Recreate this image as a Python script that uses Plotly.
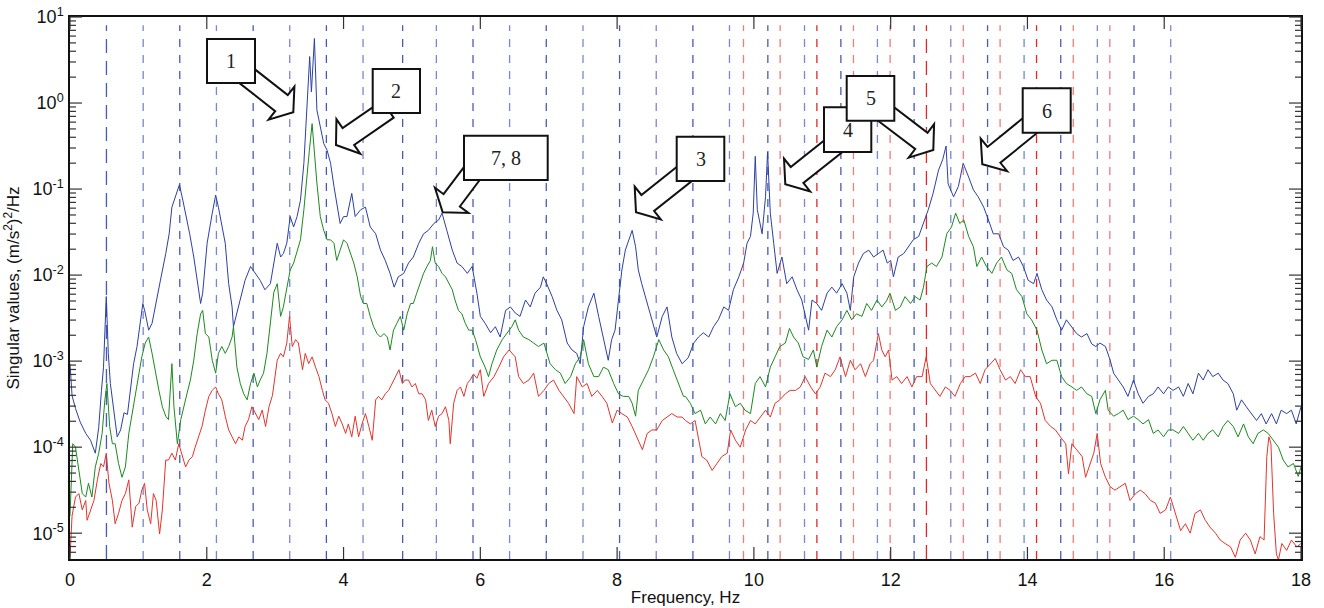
import math
import plotly.graph_objects as go

# ---------------- data (frequency in Hz, log10 of singular value) ----------------
blue_f = [0.00,0.03,0.08,0.15,0.23,0.30,0.37,0.42,0.46,0.49,0.53,0.56,0.59,0.64,0.69,0.74,0.79,0.84,0.88,0.93,
          0.98,1.03,1.065,1.10,1.15,1.20,1.25,1.32,1.40,1.45,1.49,1.54,1.60,1.65,1.69,1.75,1.81,1.86,1.91,1.94,
          2.005,2.08,2.13,2.17,2.22,2.27,2.32,2.37,2.39,2.44,2.49,2.56,2.64,2.71,2.78,2.85,2.93,3.03,3.08,3.12,
          3.17,3.22,3.27,3.32,3.37,3.42,3.46,3.505,3.53,3.574,3.61,3.66,3.71,3.76,3.81,3.86,3.91,3.95,4.00,4.05,
          4.12,4.17,4.25,4.32,4.39,4.47,4.54,4.61,4.68,4.74,4.80,4.88,4.95,5.02,5.10,5.17,5.24,5.32,5.39,5.44,
          5.51,5.59,5.66,5.73,5.81,5.88,5.95,6.00,6.07,6.15,6.22,6.29,6.37,6.44,6.51,6.58,6.66,6.73,6.80,6.88,
          6.92,6.97,7.05,7.12,7.19,7.27,7.34,7.41,7.46,7.51,7.58,7.66,7.73,7.80,7.87,7.92,7.97,8.02,8.07,8.12,
          8.17,8.22,8.27,8.31,8.36,8.44,8.51,8.58,8.66,8.73,8.80,8.87,8.95,9.04,9.12,9.19,9.26,9.34,9.41,9.48,
          9.56,9.63,9.70,9.78,9.85,9.90,9.95,9.99,10.02,10.05,10.12,10.17,10.20,10.24,10.29,10.34,10.41,10.48,10.56,10.63,
          10.70,10.76,10.80,10.85,10.92,10.99,11.07,11.14,11.21,11.29,11.36,11.41,11.46,11.53,11.60,11.68,11.75,11.82,11.89,11.95,
          12.00,12.04,12.11,12.19,12.26,12.33,12.41,12.48,12.55,12.62,12.70,12.76,12.81,12.84,12.92,12.99,13.06,13.14,13.21,13.28,
          13.36,13.43,13.50,13.58,13.65,13.72,13.79,13.87,13.94,14.01,14.09,14.14,14.21,14.28,14.36,14.43,14.50,14.57,14.65,14.72,
          14.79,14.87,14.94,15.00,15.06,15.14,15.21,15.26,15.33,15.40,15.47,15.55,15.62,15.69,15.77,15.84,15.91,15.99,16.06,16.13,
          16.21,16.28,16.35,16.42,16.50,16.57,16.64,16.71,16.79,16.86,16.93,17.01,17.06,17.13,17.20,17.28,17.35,17.42,17.49,17.57,
          17.64,17.71,17.79,17.86,17.93,18.00]
blue_log = [-3.03,-3.40,-3.55,-3.71,-3.84,-3.92,-4.07,-3.77,-3.34,-3.07,-2.25,-2.91,-3.26,-3.57,-3.88,-3.80,-3.60,-3.62,-3.34,-3.03,
            -2.83,-2.52,-2.33,-2.44,-2.64,-2.56,-2.37,-2.07,-1.75,-1.52,-1.21,-1.09,-0.95,-1.13,-1.28,-1.52,-1.79,-2.07,-2.33,-2.21,
            -1.63,-1.28,-1.07,-1.21,-1.44,-1.63,-2.10,-2.37,-2.60,-2.44,-2.25,-2.06,-1.90,-1.98,-2.06,-2.17,-2.10,-1.63,-1.79,-1.75,
            -1.63,-1.32,-1.44,-1.32,-1.13,-0.70,-0.08,0.54,0.13,0.75,-0.08,-0.28,-0.47,-0.55,-0.70,-0.97,-1.24,-1.40,-1.32,-1.32,
            -1.05,-1.32,-1.24,-1.21,-1.44,-1.52,-1.71,-1.83,-1.98,-2.14,-2.02,-1.98,-1.86,-1.79,-1.63,-1.52,-1.48,-1.40,-1.36,-1.28,
            -1.48,-1.71,-1.86,-1.90,-1.98,-1.90,-2.21,-2.48,-2.56,-2.67,-2.60,-2.72,-2.41,-2.37,-2.44,-2.48,-2.29,-2.37,-2.21,-2.14,
            -2.02,-2.10,-2.25,-2.41,-2.52,-2.79,-2.87,-2.91,-3.03,-2.60,-2.37,-2.21,-2.48,-2.72,-2.99,-2.75,-2.64,-2.29,-1.94,-1.71,
            -1.59,-1.48,-1.67,-1.94,-2.10,-2.33,-2.52,-2.72,-2.48,-2.37,-2.72,-2.91,-3.03,-2.96,-2.79,-2.72,-2.67,-2.72,-2.60,-2.52,
            -2.37,-2.41,-2.17,-2.02,-1.86,-1.63,-1.55,-1.28,-0.62,-1.24,-1.52,-1.09,-0.57,-1.28,-1.63,-1.98,-1.79,-2.10,-2.02,-2.17,
            -2.29,-2.48,-2.64,-2.29,-2.33,-2.41,-2.21,-2.14,-2.21,-2.10,-2.21,-2.41,-2.02,-1.86,-1.75,-1.71,-1.79,-1.75,-1.71,-1.86,
            -1.83,-2.02,-1.79,-1.75,-1.67,-1.59,-1.55,-1.40,-1.24,-1.05,-0.78,-0.66,-0.50,-0.94,-1.09,-0.97,-0.70,-0.86,-1.01,-1.09,
            -1.21,-1.36,-1.52,-1.52,-1.67,-1.71,-1.83,-1.79,-1.90,-2.06,-2.10,-1.98,-2.17,-2.29,-2.37,-2.52,-2.64,-2.52,-2.60,-2.68,
            -2.72,-2.68,-2.80,-2.83,-2.79,-2.83,-2.99,-3.14,-3.22,-3.30,-3.41,-3.22,-3.38,-3.49,-3.41,-3.38,-3.30,-3.38,-3.30,-3.34,
            -3.30,-3.41,-3.26,-3.38,-3.14,-3.22,-3.10,-3.18,-3.14,-3.22,-3.26,-3.38,-3.57,-3.45,-3.53,-3.61,-3.69,-3.61,-3.73,-3.61,
            -3.73,-3.57,-3.61,-3.57,-3.73,-3.53]

green_f = [0.00,0.04,0.08,0.13,0.18,0.23,0.27,0.32,0.37,0.42,0.47,0.51,0.54,0.58,0.62,0.66,0.71,0.76,0.81,0.86,
           0.91,0.96,1.01,1.05,1.10,1.15,1.20,1.25,1.30,1.35,1.40,1.44,1.49,1.52,1.57,1.62,1.66,1.71,1.76,1.81,
           1.86,1.91,1.94,1.98,2.03,2.08,2.13,2.17,2.22,2.27,2.32,2.37,2.39,2.44,2.49,2.54,2.59,2.64,2.69,2.74,
           2.78,2.83,2.88,2.93,2.98,3.03,3.08,3.12,3.17,3.22,3.27,3.32,3.37,3.42,3.47,3.50,3.54,3.57,3.61,3.66,
           3.71,3.76,3.81,3.86,3.90,3.95,4.00,4.05,4.10,4.15,4.20,4.25,4.29,4.34,4.39,4.44,4.49,4.54,4.59,4.64,
           4.68,4.73,4.78,4.83,4.88,4.93,4.98,5.02,5.07,5.12,5.17,5.22,5.27,5.30,5.34,5.39,5.44,5.49,5.54,5.59,
           5.63,5.68,5.73,5.78,5.83,5.88,5.93,6.00,6.07,6.12,6.17,6.24,6.32,6.39,6.46,6.51,6.56,6.63,6.71,6.78,
           6.85,6.93,6.97,7.02,7.10,7.17,7.24,7.32,7.39,7.46,7.51,7.58,7.66,7.73,7.80,7.87,7.95,8.02,8.09,8.17,
           8.22,8.27,8.31,8.39,8.46,8.53,8.61,8.68,8.75,8.82,8.90,8.97,9.00,9.07,9.14,9.22,9.29,9.36,9.44,9.51,
           9.58,9.65,9.73,9.80,9.87,9.95,10.02,10.09,10.17,10.24,10.31,10.38,10.46,10.52,10.58,10.65,10.72,10.80,10.87,10.92,
           10.99,11.07,11.14,11.21,11.29,11.36,11.43,11.50,11.58,11.65,11.72,11.80,11.87,11.94,11.99,12.07,12.14,12.21,12.29,12.36,
           12.43,12.48,12.53,12.60,12.67,12.75,12.82,12.89,12.95,13.01,13.07,13.14,13.21,13.26,13.33,13.40,13.48,13.55,13.62,13.70,
           13.77,13.84,13.92,13.99,14.06,14.14,14.21,14.28,14.36,14.43,14.50,14.57,14.65,14.72,14.79,14.87,14.94,15.00,15.06,15.14,
           15.18,15.26,15.33,15.40,15.47,15.55,15.62,15.69,15.77,15.84,15.91,15.99,16.06,16.13,16.21,16.28,16.35,16.42,16.50,16.57,
           16.64,16.71,16.79,16.86,16.93,17.01,17.08,17.16,17.23,17.30,17.37,17.45,17.52,17.59,17.67,17.74,17.81,17.89,17.96,18.00]
green_log = [-4.80,-3.96,-4.00,-4.27,-4.54,-4.58,-4.42,-4.58,-4.23,-4.07,-3.84,-3.45,-3.26,-3.76,-3.96,-3.96,-4.19,-4.35,-4.23,-3.84,
             -3.61,-3.34,-3.14,-2.95,-2.79,-2.72,-2.91,-3.14,-3.34,-3.53,-3.64,-3.68,-3.03,-3.53,-3.96,-3.68,-3.53,-3.38,-3.22,-2.99,
             -2.68,-2.45,-2.41,-2.68,-2.72,-2.99,-3.14,-2.91,-2.83,-2.91,-2.83,-2.72,-2.60,-3.07,-3.26,-3.38,-3.45,-3.26,-3.14,-3.30,
             -3.22,-3.14,-2.91,-2.52,-2.20,-2.10,-2.48,-2.37,-2.17,-1.94,-1.86,-1.71,-1.59,-1.24,-0.86,-0.55,-0.24,-0.55,-0.93,-1.32,
             -1.48,-1.59,-1.59,-1.63,-1.83,-1.71,-1.59,-1.63,-1.75,-1.86,-2.02,-2.25,-2.33,-2.33,-2.48,-2.60,-2.68,-2.72,-2.68,-2.72,
             -2.87,-2.64,-2.56,-2.48,-2.64,-2.45,-2.33,-2.33,-2.21,-2.10,-1.98,-1.90,-1.83,-1.67,-1.86,-1.90,-1.98,-2.02,-2.10,-2.17,
             -2.29,-2.41,-2.45,-2.56,-2.64,-2.64,-2.75,-2.95,-3.07,-3.18,-3.03,-2.87,-2.75,-2.68,-2.60,-2.52,-2.64,-2.72,-2.75,-2.79,
             -2.83,-2.79,-2.91,-3.03,-3.10,-3.14,-3.26,-3.18,-3.03,-2.95,-2.75,-3.03,-3.18,-3.18,-3.07,-3.10,-3.26,-3.38,-3.41,-3.41,
             -3.49,-3.64,-3.34,-3.22,-3.10,-2.95,-2.75,-2.87,-2.95,-3.10,-3.26,-3.41,-3.41,-3.49,-3.61,-3.57,-3.73,-3.65,-3.73,-3.61,
             -3.69,-3.38,-3.53,-3.49,-3.57,-3.61,-3.26,-3.18,-3.30,-3.07,-2.95,-2.83,-2.79,-2.62,-2.72,-2.79,-2.95,-2.98,-2.87,-3.07,
             -2.83,-2.64,-2.72,-2.60,-2.52,-2.41,-2.52,-2.45,-2.48,-2.33,-2.41,-2.29,-2.37,-2.30,-2.21,-2.41,-2.37,-2.25,-2.33,-2.25,
             -2.29,-2.14,-1.90,-1.86,-1.90,-1.79,-1.52,-1.44,-1.28,-1.40,-1.36,-1.55,-1.67,-1.90,-1.79,-1.90,-1.98,-1.86,-1.79,-1.94,
             -1.98,-2.17,-2.25,-2.45,-2.52,-2.64,-2.87,-3.03,-2.99,-2.99,-3.18,-3.26,-3.30,-3.34,-3.30,-3.38,-3.41,-3.61,-3.45,-3.34,
             -3.57,-3.64,-3.61,-3.57,-3.68,-3.64,-3.68,-3.73,-3.68,-3.84,-3.80,-3.88,-3.80,-3.80,-3.84,-3.76,-3.84,-3.92,-3.84,-3.92,
             -3.84,-3.80,-3.88,-3.76,-3.69,-3.76,-3.88,-3.73,-3.88,-3.96,-3.84,-3.80,-3.84,-3.92,-4.00,-4.15,-4.23,-4.19,-4.34,-4.23]

red_f = [0.00,0.03,0.08,0.13,0.18,0.23,0.25,0.30,0.35,0.40,0.45,0.49,0.53,0.57,0.62,0.66,0.71,0.76,0.81,0.86,
         0.91,0.96,1.01,1.05,1.09,1.13,1.18,1.22,1.26,1.31,1.35,1.40,1.44,1.49,1.54,1.59,1.64,1.69,1.74,1.79,
         1.83,1.88,1.93,1.98,2.03,2.08,2.13,2.17,2.22,2.27,2.32,2.37,2.42,2.47,2.52,2.56,2.61,2.66,2.71,2.76,
         2.81,2.86,2.91,2.96,3.03,3.08,3.12,3.17,3.21,3.25,3.30,3.34,3.40,3.44,3.49,3.54,3.59,3.64,3.69,3.73,
         3.78,3.83,3.88,3.93,3.98,4.03,4.07,4.12,4.17,4.22,4.27,4.32,4.37,4.42,4.47,4.51,4.56,4.61,4.66,4.71,
         4.76,4.81,4.86,4.90,4.95,5.00,5.05,5.10,5.15,5.20,5.24,5.29,5.34,5.39,5.44,5.49,5.54,5.56,5.61,5.66,
         5.71,5.76,5.81,5.85,5.90,5.95,6.00,6.05,6.12,6.20,6.27,6.34,6.42,6.51,6.56,6.63,6.71,6.78,6.85,6.93,
         7.00,7.07,7.15,7.22,7.29,7.37,7.41,7.49,7.56,7.63,7.71,7.78,7.85,7.93,8.00,8.07,8.15,8.22,8.29,8.37,
         8.44,8.51,8.58,8.66,8.73,8.80,8.88,8.95,9.00,9.07,9.14,9.19,9.24,9.31,9.39,9.46,9.53,9.61,9.66,9.73,
         9.80,9.88,9.95,10.02,10.09,10.17,10.24,10.31,10.38,10.46,10.53,10.61,10.68,10.75,10.83,10.90,10.97,11.04,11.12,11.19,
         11.26,11.34,11.41,11.48,11.56,11.63,11.70,11.75,11.82,11.87,11.92,11.97,12.02,12.09,12.16,12.24,12.31,12.38,12.46,12.52,
         12.58,12.65,12.72,12.80,12.87,12.94,13.02,13.09,13.16,13.24,13.31,13.38,13.46,13.53,13.60,13.68,13.75,13.82,13.90,13.97,
         14.04,14.12,14.19,14.26,14.34,14.41,14.48,14.56,14.60,14.65,14.72,14.80,14.85,14.92,14.97,15.02,15.07,15.14,15.21,15.28,
         15.36,15.43,15.50,15.58,15.65,15.72,15.80,15.87,15.94,16.02,16.09,16.16,16.24,16.31,16.38,16.45,16.53,16.60,16.67,16.75,
         16.82,16.89,16.97,17.04,17.11,17.19,17.26,17.33,17.40,17.46,17.50,17.53,17.56,17.60,17.64,17.67,17.72,17.79,17.86,17.94,18.00]
red_log = [-5.28,-4.80,-4.58,-4.54,-4.73,-4.62,-4.85,-4.73,-4.62,-4.38,-4.19,-4.23,-4.07,-4.42,-4.62,-4.89,-4.77,-4.62,-4.54,-4.38,
           -4.93,-4.69,-4.65,-4.50,-4.42,-4.73,-4.89,-4.54,-4.62,-5.01,-4.73,-4.15,-4.15,-4.07,-4.15,-3.96,-4.11,-4.23,-4.15,-4.11,
           -4.00,-3.88,-3.76,-3.57,-3.41,-3.34,-3.30,-3.38,-3.45,-3.64,-3.80,-3.88,-3.96,-3.88,-3.92,-3.76,-3.68,-3.53,-3.61,-3.68,
           -3.57,-3.76,-3.53,-3.40,-2.99,-2.91,-2.95,-2.79,-2.48,-2.83,-2.75,-2.79,-3.10,-2.91,-3.03,-2.95,-3.07,-3.18,-3.34,-3.45,
           -3.49,-3.61,-3.76,-3.64,-3.73,-3.84,-3.73,-3.88,-3.64,-3.88,-3.73,-3.61,-3.76,-3.92,-3.45,-3.41,-3.45,-3.38,-3.34,-3.26,
           -3.18,-3.10,-3.26,-3.22,-3.22,-3.30,-3.26,-3.38,-3.38,-3.45,-3.69,-3.57,-3.76,-3.64,-3.61,-3.53,-3.69,-3.96,-3.49,-3.34,
           -3.30,-3.41,-3.26,-3.22,-3.15,-3.20,-3.10,-3.41,-3.26,-3.18,-3.07,-2.95,-2.87,-2.95,-3.18,-3.26,-3.22,-3.14,-3.41,-3.34,
           -3.26,-3.22,-3.34,-3.41,-3.49,-3.61,-3.18,-3.30,-3.26,-3.41,-3.34,-3.41,-3.49,-3.72,-3.57,-3.61,-3.65,-3.76,-3.88,-4.03,
           -3.84,-3.80,-3.80,-3.69,-3.65,-3.61,-3.65,-3.65,-3.69,-3.73,-3.69,-3.88,-4.11,-4.15,-4.27,-4.19,-4.11,-4.07,-3.80,-3.92,
           -4.00,-3.80,-3.69,-3.73,-3.65,-3.57,-3.65,-3.49,-3.45,-3.38,-3.34,-3.34,-3.30,-3.18,-3.30,-3.38,-3.30,-3.14,-3.18,-3.10,
           -2.95,-3.18,-2.99,-3.10,-3.03,-3.18,-3.03,-2.99,-2.68,-2.87,-2.95,-2.87,-3.22,-3.18,-3.26,-3.18,-3.30,-3.18,-3.18,-2.95,
           -3.26,-3.34,-3.41,-3.30,-3.34,-3.41,-3.26,-3.18,-3.18,-3.14,-3.26,-3.10,-3.03,-2.97,-3.10,-3.22,-3.18,-3.26,-3.10,-3.18,
           -3.18,-3.41,-3.49,-3.69,-3.76,-3.80,-3.88,-3.96,-4.31,-3.96,-4.03,-4.11,-4.35,-4.19,-4.07,-3.84,-4.19,-4.35,-4.46,-4.50,
           -4.46,-4.42,-4.62,-4.54,-4.50,-4.54,-4.62,-4.65,-4.77,-4.73,-4.58,-4.77,-4.97,-4.89,-5.00,-4.77,-4.73,-4.85,-4.93,-5.00,
           -5.08,-5.12,-5.16,-5.28,-5.08,-5.00,-5.08,-5.24,-5.04,-5.08,-4.11,-3.88,-3.96,-4.77,-5.24,-5.31,-5.12,-5.20,-5.08,-5.16,-5.12]

# harmonic marker frequencies (Hz)
blue_marks = [0.533,1.070,1.605,2.141,2.678,3.213,3.749,4.285,4.864,5.357,5.893,6.428,6.964,7.501,8.036,
              8.572,9.108,9.643,10.204,10.740,11.272,11.806,12.343,12.879,13.417,13.951,14.487,15.022,15.558,16.095]
red_marks = [9.848,10.384,10.921,11.456,11.992,12.523,13.062,13.600,14.133,14.670,15.205]

x_ticks = [0, 2, 4, 6, 8, 10, 12, 14, 16, 18]
y_exps = [-5, -4, -3, -2, -1, 0, 1]

# ---------------- styling / layout ----------------
W, H = 1324, 608
ML, MR, MT, MB = 70, 23, 17, 49
PW, PH = W - ML - MR, H - MT - MB
SANS = "Liberation Sans, Arial, Helvetica, sans-serif"
SERIF = "Liberation Serif, Times New Roman, serif"
XR = [0, 18]
YR = [-5.30, 1.0]

fig = go.Figure()
for f, L, col in [(blue_f, blue_log, "#2c40a3"), (green_f, green_log, "#1b8a1e"), (red_f, red_log, "#e3342a")]:
    fig.add_trace(go.Scatter(x=f, y=[10 ** v for v in L], mode="lines",
                             line=dict(color=col, width=1), showlegend=False, hoverinfo="skip"))

shapes = []
for i, fm in enumerate(blue_marks):
    dash = "14px,8px" if i == 0 else "8px,8px"
    col = "rgba(60,82,180,0.95)" if i % 2 == 0 else "rgba(95,115,195,0.85)"
    shapes.append(dict(type="line", xref="x", yref="paper", x0=fm, x1=fm, y0=0, y1=0.985,
                       line=dict(color=col, width=1.3, dash=dash), layer="below"))
for i, fm in enumerate(red_marks):
    bright = (i % 3 == 2)
    dash = "14px,8px" if i == 5 else "8px,8px"
    col = "rgba(225,40,40,1)" if bright else "rgba(235,110,110,0.9)"
    shapes.append(dict(type="line", xref="x", yref="paper", x0=fm, x1=fm, y0=0, y1=0.985,
                       line=dict(color=col, width=1.3, dash=dash), layer="below"))


def px(x):
    return (x - ML) / PW


def py(y):
    return (MT + PH - y) / PH


# ---- frame ticks (inside, on all four sides), positioned from the axis ranges ----
TICK = dict(color="#333", width=1.2)
MAJ, MIN = 12, 6
for t in x_ticks:
    xf = (t - XR[0]) / (XR[1] - XR[0])
    shapes.append(dict(type="line", xref="paper", yref="paper", x0=xf, x1=xf, y0=0, y1=MAJ / PH, line=TICK, layer="above"))
    shapes.append(dict(type="line", xref="paper", yref="paper", x0=xf, x1=xf, y0=1, y1=1 - MAJ / PH, line=TICK, layer="above"))
for e in range(-6, 2):
    for k in range(1, 10):
        lv = e + math.log10(k)
        if lv < YR[0] - 1e-9 or lv > YR[1] + 1e-9:
            continue
        yf = (lv - YR[0]) / (YR[1] - YR[0])
        ln_ = MAJ if k == 1 else MIN
        shapes.append(dict(type="line", xref="paper", yref="paper", x0=0, x1=ln_ / PW, y0=yf, y1=yf, line=TICK, layer="above"))
        shapes.append(dict(type="line", xref="paper", yref="paper", x0=1, x1=1 - ln_ / PW, y0=yf, y1=yf, line=TICK, layer="above"))

# callouts: label, box (x0,y0,x1,y1) in page pixels, arrow tail, arrow tip
callouts = [
    ("1", (207, 39, 255, 83), (247.5, 76.5), (293.3, 112.3)),
    ("2", (372.7, 69, 420, 113), (381.3, 113.8), (336, 145)),
    ("7, 8", (464, 135.7, 547.7, 180), (472, 173.3), (442.7, 212.3)),
    ("3", (676.7, 136.7, 724.3, 181), (683, 175), (636, 212.3)),
    ("4", (824, 107.3, 871.3, 152), (831.7, 147.5), (785.3, 184.3)),
    ("5", (846.7, 76, 894.3, 120.7), (886.3, 114.2), (933.3, 150)),
    ("6", (1022.7, 88.3, 1070.7, 132.7), (1029.7, 125.8), (982.3, 164.3)),
]
annotations = []
SH, HH, HL = 10.2, 21, 15
for label, (bx0, by0, bx1, by1), (tx, ty), (hx, hy) in callouts:
    dx, dy = hx - tx, hy - ty
    ln = (dx * dx + dy * dy) ** 0.5
    ux, uy = dx / ln, dy / ln
    nx, ny = -uy, ux
    tx, ty = tx - 8 * ux, ty - 8 * uy
    bxh, byh = hx - HL * ux, hy - HL * uy
    pts = [(tx + SH * nx, ty + SH * ny), (bxh + SH * nx, byh + SH * ny), (bxh + HH * nx, byh + HH * ny),
           (hx, hy), (bxh - HH * nx, byh - HH * ny), (bxh - SH * nx, byh - SH * ny), (tx - SH * nx, ty - SH * ny)]
    path = "M " + " L ".join(f"{px(a):.5f},{py(b):.5f}" for a, b in pts) + " Z"
    shapes.append(dict(type="path", xref="paper", yref="paper", path=path,
                       fillcolor="white", line=dict(color="#111", width=2), layer="above"))
    shapes.append(dict(type="rect", xref="paper", yref="paper", x0=px(bx0), x1=px(bx1), y0=py(by1), y1=py(by0),
                       fillcolor="white", line=dict(color="#111", width=2), layer="above"))
    annotations.append(dict(xref="paper", yref="paper", x=px((bx0 + bx1) / 2), y=py((by0 + by1) / 2),
                            text=label, showarrow=False, xanchor="center", yanchor="middle",
                            font=dict(family=SERIF, size=20, color="#222")))

major_vals = [10.0 ** e for e in y_exps]

fig.update_layout(
    width=W, height=H,
    margin=dict(l=ML, r=MR, t=MT, b=MB, autoexpand=False),
    paper_bgcolor="white", plot_bgcolor="white",
    font=dict(family=SANS, color="#111"),
    shapes=shapes, annotations=annotations,
    xaxis=dict(range=XR, tickmode="array", tickvals=x_ticks, ticktext=[str(t) for t in x_ticks],
               ticks="", ticklabelstandoff=4,
               showline=True, linecolor="#111", linewidth=1.5, mirror=True,
               showgrid=False, zeroline=False, tickfont=dict(size=18, family=SANS),
               title=dict(text="Frequency, Hz", font=dict(size=17, family=SANS), standoff=2),
               automargin=False),
    yaxis=dict(type="log", range=YR, tickmode="array",
               tickvals=major_vals, ticktext=[f"10<sup>{e}</sup>" for e in y_exps],
               ticks="", ticklabelstandoff=1,
               showline=True, linecolor="#111", linewidth=1.5, mirror=True,
               showgrid=False, zeroline=False, tickfont=dict(size=18, family=SANS),
               title=dict(text="Singular values, (m/s<sup>2</sup>)<sup>2</sup>/Hz",
                          font=dict(size=17, family=SANS), standoff=8),
               automargin=False),
)

fig.write_html("out.html")
